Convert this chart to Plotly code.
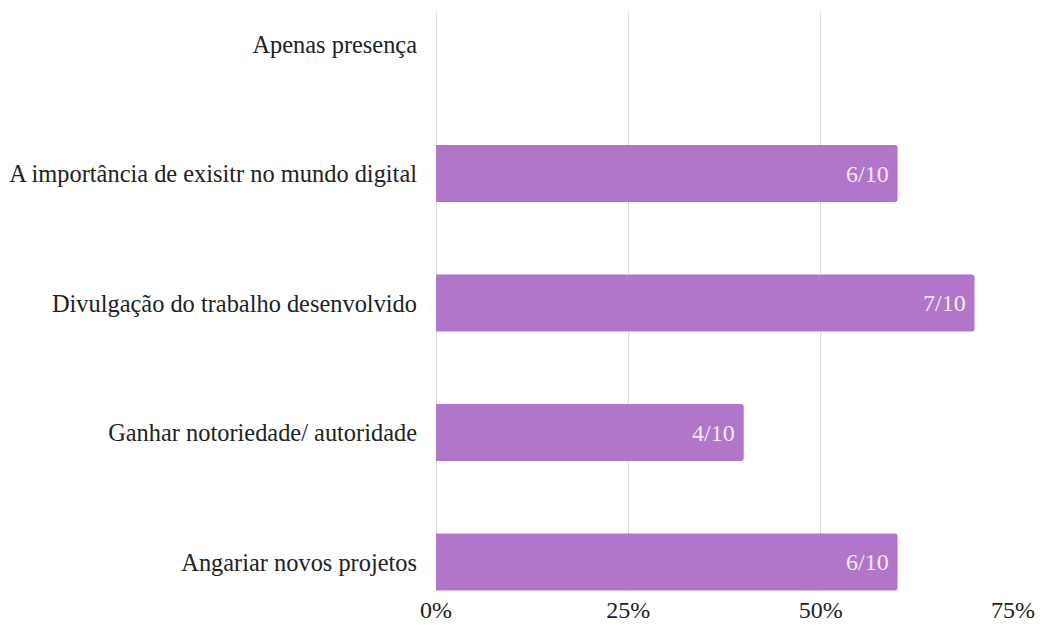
import plotly.graph_objects as go

# Motivations (bottom to top as plotted) and the number of respondents out of 10
categories = [
    "Angariar novos projetos",
    "Ganhar notoriedade/ autoridade",
    "Divulgação do trabalho desenvolvido",
    "A importância de exisitr no mundo digital",
    "Apenas presença",
]
counts = [6, 4, 7, 6, 0]
total = 10
shares = [c / total for c in counts]
value_labels = [f"{c}/{total}" if c > 0 else "" for c in counts]

tick_vals = [0, 0.25, 0.5, 0.75]
tick_text = ["0%", "25%", "50%", "75%"]

BAR_COLOR = "#b176c9"
FONT = "Liberation Serif, Times New Roman, serif"

fig = go.Figure(
    go.Bar(
        x=shares,
        y=categories,
        orientation="h",
        marker=dict(color=BAR_COLOR, line=dict(width=0)),
        width=0.44,
        hoverinfo="skip",
    )
)

# value labels inside the bar ends
for cat, share, lab in zip(categories, shares, value_labels):
    if lab:
        fig.add_annotation(
            x=share, y=cat, text=lab, showarrow=False,
            xanchor="right", xshift=-7,
            font=dict(family=FONT, size=24, color="#f4ecf7"),
        )

fig.update_layout(
    width=1051, height=628,
    margin=dict(l=436, r=38, t=13, b=37, autoexpand=False),
    paper_bgcolor="white", plot_bgcolor="white",
    font=dict(family=FONT, size=24, color="#222222"),
    showlegend=False,
    barcornerradius=3,
)
fig.update_xaxes(
    range=[0, 0.75], tickvals=tick_vals, ticktext=tick_text,
    showgrid=True, gridcolor="#dcdcdc", gridwidth=1,
    zeroline=True, zerolinecolor="#dcdcdc", zerolinewidth=1,
    showline=False, ticks="", ticklabelstandoff=2, automargin=False,
    tickfont=dict(family=FONT, size=24, color="#222222"),
    fixedrange=True,
)
fig.update_yaxes(
    range=[-0.224, 4.24], showgrid=False, zeroline=False, showline=False,
    ticks="", ticklabelstandoff=18, automargin=False,
    tickfont=dict(family=FONT, size=24.4, color="#222222"),
    fixedrange=True,
)

fig.write_html("out.html")
